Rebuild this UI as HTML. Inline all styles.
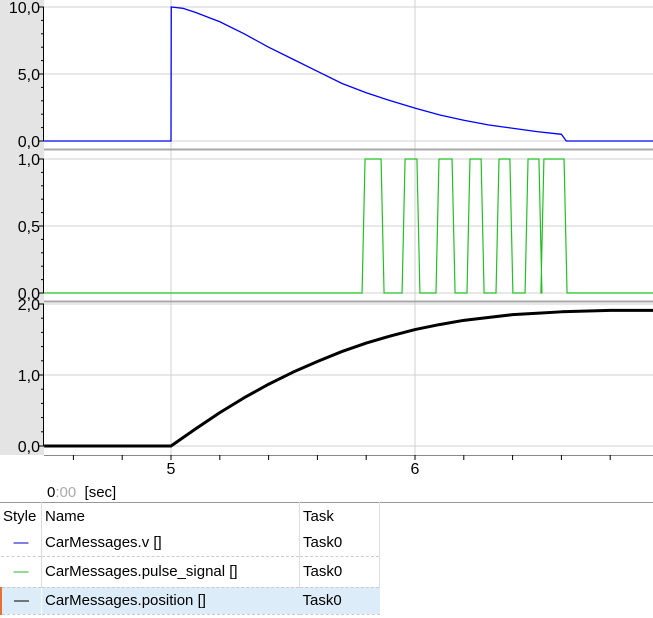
<!DOCTYPE html>
<html><head><meta charset="utf-8"><style>
body{margin:0;width:653px;height:618px;background:#fff;overflow:hidden;font-family:"Liberation Sans",sans-serif}
svg{position:absolute;left:0;top:0}
.t{font-size:16px;fill:#000}
table{position:absolute;left:0;top:502px;border-collapse:collapse;font-size:15px}
</style></head><body>
<svg id="c" width="653" height="618"></svg>
<script>
const vT=[4.48,5.0,5.001,5.05,5.1,5.2,5.3,5.4,5.5,5.6,5.7,5.8,5.9,6.0,6.1,6.2,6.3,6.4,6.5,6.6,6.62,6.98];
const vV=[0,0,10,9.9,9.6,8.9,8.0,7.0,6.1,5.2,4.3,3.6,3.0,2.45,1.95,1.55,1.2,0.95,0.7,0.5,0,0];
const pulseRise=[5.783,5.947,6.086,6.213,6.332,6.451,6.516];
const pulseFall=[5.865,6.012,6.156,6.275,6.393,6.512,6.615];
const posT=[4.48,5.0,5.05,5.1,5.2,5.3,5.4,5.5,5.6,5.7,5.8,5.9,6.0,6.1,6.2,6.3,6.4,6.5,6.6,6.8,6.98];
const posV=[0,0,0.12,0.24,0.47,0.68,0.87,1.04,1.19,1.33,1.45,1.55,1.64,1.71,1.77,1.81,1.85,1.87,1.89,1.91,1.91];
const xTicks=[5,6];
const ns="http://www.w3.org/2000/svg",s=document.getElementById('c');
function el(t,a){const e=document.createElementNS(ns,t);for(const k in a)e.setAttribute(k,a[k]);s.appendChild(e);return e;}
const X=t=>171+(t-5)*244;
const Y1=v=>141-v*13.4, Y2=v=>293-v*134, Y3=v=>446-v*71;
let e=el('rect',{x:0,y:0,width:44,height:455,fill:'#e4e4e4'});

[[Y1,[0,5,10]],[Y2,[0,0.5,1]],[Y3,[0,1,2]]].forEach(([Y,vals])=>vals.forEach(v=>{el('line',{x1:44,x2:653,y1:Y(v),y2:Y(v),stroke:'#d0d0d0'});}));
xTicks.forEach(t=>{el('line',{x1:X(t),x2:X(t),y1:0,y2:455,stroke:'#d0d0d0'});});
el('line',{x1:44,x2:653,y1:149.5,y2:149.5,stroke:'#a8a8a8',"stroke-width":2});
el('line',{x1:44,x2:653,y1:301.5,y2:301.5,stroke:'#a8a8a8',"stroke-width":2});
el('line',{x1:44,x2:653,y1:455.5,y2:455.5,stroke:'#888'});
function yax(Y,labels,minor,name){labels.forEach(l=>{const t=el('text',{x:40,y:Y(l.v)+6,'text-anchor':'end',class:'t'});t.textContent=l.s;

el('line',{x1:39,x2:44,y1:Y(l.v),y2:Y(l.v),stroke:'#000'});});
minor.forEach(v=>el('line',{x1:41,x2:44,y1:Y(v),y2:Y(v),stroke:'#000'}));el('line',{x1:43.5,x2:43.5,y1:Y(labels[labels.length-1].v),y2:Y(0),stroke:'#000'});}
yax(Y1,[{v:0,s:'0,0'},{v:5,s:'5,0'},{v:10,s:'10,0'}],[1,2,3,4,6,7,8,9],'v-axis');
yax(Y2,[{v:0,s:'0,0'},{v:0.5,s:'0,5'},{v:1,s:'1,0'}],[0.1,0.2,0.3,0.4,0.6,0.7,0.8,0.9],'pulse-axis');
yax(Y3,[{v:0,s:'0,0'},{v:1,s:'1,0'},{v:2,s:'2,0'}],[0.2,0.4,0.6,0.8,1.2,1.4,1.6,1.8],'position-axis');
for(let t=4.6;t<6.99;t+=0.2){const x=X(t);el('line',{x1:x,x2:x,y1:455,y2:460,stroke:'#000'});}
xTicks.forEach(t=>{const x=el('text',{x:X(t),y:474,'text-anchor':'middle',class:'t'});x.textContent=t;
});
let tl=el('text',{x:47,y:497,class:'t',style:'font-size:15px'});tl.innerHTML='0<tspan fill="#aaa">:00</tspan>&#160;&#160;[sec]';

e=el('polyline',{points:vT.map((t,i)=>X(t)+','+Y1(vV[i])).join(' '),fill:'none',stroke:'#0000ff','stroke-width':1.3});

let pts=[[X(4.48),Y2(0)]];
pulseRise.forEach((r,i)=>{pts.push([X(r),Y2(0)],[X(r)+3,Y2(1)],[X(pulseFall[i])-1,Y2(1)],[X(pulseFall[i])+2,Y2(0)]);});
pts.push([X(6.98),Y2(0)]);
e=el('polyline',{points:pts.map(p=>p.join(',')).join(' '),fill:'none',stroke:'#22c022','stroke-width':1.2});

e=el('polyline',{points:posT.map((t,i)=>X(t)+','+Y3(posV[i])).join(' '),fill:'none',stroke:'#000','stroke-width':3,'stroke-linejoin':'round'});

</script>
<div style="position:absolute;left:0;top:502px;width:653px;border-top:1px solid #999"></div>
<table>
<tr style="height:28px"><td style="width:38px;padding:0 0 0 2px;border-right:1px solid #ddd">Style</td><td style="width:253px;padding-left:3px;border-right:1px solid #ddd">Name</td><td style="width:75px;padding-left:3px;border-right:1px solid #ddd">Task</td></tr>
<tr style="height:26px;border-bottom:1px dashed #ccc"><td style="text-align:center;color:#00c">—</td><td style="padding-left:3px;border-left:1px solid #ddd;border-right:1px solid #ddd">CarMessages.v []</td><td style="padding-left:3px;border-right:1px solid #ddd">Task0</td></tr>
<tr style="height:31px;border-bottom:1px dashed #ccc"><td style="text-align:center;color:#2b2">—</td><td style="padding-left:3px;border-left:1px solid #ddd;border-right:1px solid #ddd">CarMessages.pulse_signal []</td><td style="padding-left:3px;border-right:1px solid #ddd">Task0</td></tr>
<tr style="height:27px;background:#dcecf8;border-bottom:1px dashed #ccc"><td style="text-align:center;border-left:2px solid #e87030">—</td><td style="padding-left:3px;border-left:1px solid #fff">CarMessages.position []</td><td style="padding-left:3px">Task0</td></tr>
</table>
</body></html>
